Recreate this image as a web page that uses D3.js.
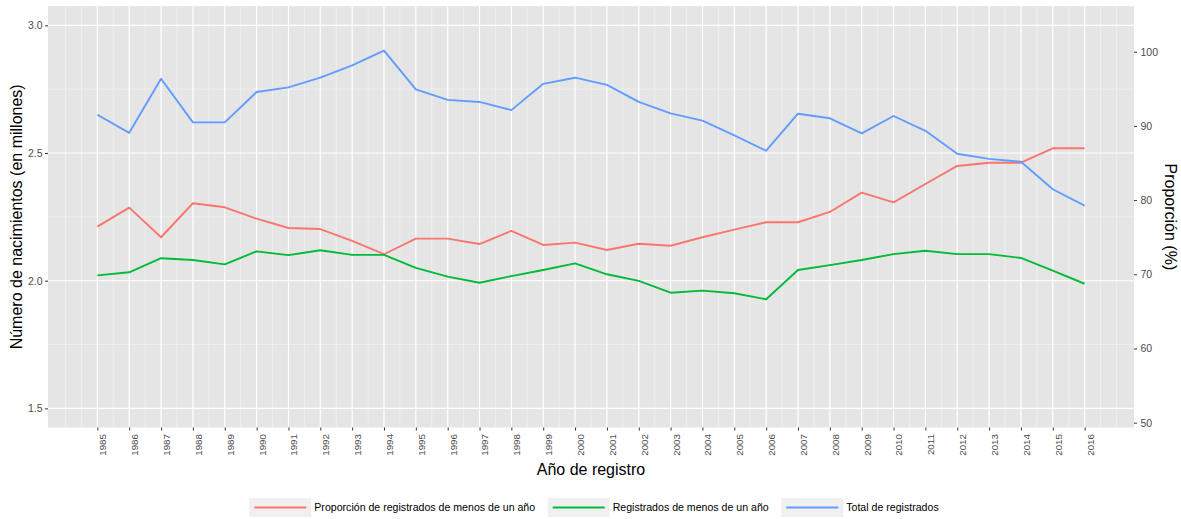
<!DOCTYPE html>
<html>
<head>
<meta charset="utf-8">
<script src="https://cdn.jsdelivr.net/npm/d3@7/dist/d3.min.js"></script>
<style>
  html, body { margin: 0; padding: 0; background: #ffffff; }
  svg { display: block; font-family: "Liberation Sans", Arial, sans-serif; }
</style>
</head>
<body>
<svg id="chart" width="1181" height="519"></svg>
<script>
// ---------- data ----------
const years = [1985,1986,1987,1988,1989,1990,1991,1992,1993,1994,
               1995,1996,1997,1998,1999,2000,2001,2002,2003,2004,
               2005,2006,2007,2008,2009,2010,2011,2012,2013,2014,
               2015,2016];
// Total de registrados (millones)
const totalRegistrados = [2.650,2.579,2.791,2.620,2.620,2.739,2.757,2.795,2.843,2.901,
                          2.749,2.708,2.700,2.668,2.771,2.795,2.767,2.700,2.655,2.627,
                          2.569,2.509,2.654,2.636,2.577,2.645,2.587,2.497,2.477,2.466,
                          2.358,2.294];
// Registrados de menos de un año (millones)
const registradosMenos1 = [2.021,2.033,2.088,2.081,2.064,2.115,2.100,2.119,2.101,2.101,
                           2.050,2.016,1.992,2.018,2.042,2.068,2.025,1.999,1.953,1.961,
                           1.951,1.927,2.042,2.061,2.081,2.104,2.117,2.104,2.104,2.089,
                           2.039,1.988];
// Proporción de registrados de menos de un año (%)
const proporcion = [76.42,78.98,74.99,79.57,79.03,77.50,76.24,76.10,74.50,72.70,
                    74.80,74.80,74.08,75.84,73.95,74.26,73.27,74.12,73.85,74.99,
                    76.01,77.01,77.01,78.40,81.00,79.70,82.17,84.60,85.04,85.04,
                    86.98,86.98];
const leftTicks = [1.5, 2.0, 2.5, 3.0];
const leftMinor = [1.75, 2.25, 2.75];
const rightTicks = [50, 60, 70, 80, 90, 100];
const seriesNames = ["Proporción de registrados de menos de un año",
                     "Registrados de menos de un año",
                     "Total de registrados"];
const seriesColors = ["#F8766D", "#00BA38", "#619CFF"];
const xTitle = "Año de registro";
const yLeftTitle = "Número de nacimientos (en millones)";
const yRightTitle = "Proporción (%)";

// ---------- layout ----------
const svg = d3.select("#chart");
const W = 1181, H = 519;
const panel = { left: 48, right: 1134, top: 6.2, bottom: 427.5 };

const x = d3.scaleLinear()
  .domain([1983.45, 2017.55])
  .range([panel.left, panel.right]);
const yL = d3.scaleLinear()
  .domain([1.425, 3.075])
  .range([panel.bottom, panel.top]);
const yR = d3.scaleLinear()
  .domain([49.35, 106.13])
  .range([panel.bottom, panel.top]);

// panel background
svg.append("rect")
  .attr("x", panel.left).attr("y", panel.top)
  .attr("width", panel.right - panel.left)
  .attr("height", panel.bottom - panel.top)
  .attr("fill", "#E5E5E5");

const grid = svg.append("g");
// minor vertical grid (half years from 1984 to 2017)
const xMinor = d3.range(1984, 2017.01, 0.5);
grid.selectAll(".vminor").data(xMinor).join("line")
  .attr("x1", d => x(d)).attr("x2", d => x(d))
  .attr("y1", panel.top).attr("y2", panel.bottom)
  .attr("stroke", "#F5F5F5").attr("stroke-width", 0.6);
// minor horizontal grid
grid.selectAll(".hminor").data(leftMinor).join("line")
  .attr("x1", panel.left).attr("x2", panel.right)
  .attr("y1", d => yL(d)).attr("y2", d => yL(d))
  .attr("stroke", "#F5F5F5").attr("stroke-width", 0.6);
// major grids
grid.selectAll(".vmajor").data(years).join("line")
  .attr("x1", d => x(d)).attr("x2", d => x(d))
  .attr("y1", panel.top).attr("y2", panel.bottom)
  .attr("stroke", "#ffffff").attr("stroke-width", 1.1);
grid.selectAll(".hmajor").data(leftTicks).join("line")
  .attr("x1", panel.left).attr("x2", panel.right)
  .attr("y1", d => yL(d)).attr("y2", d => yL(d))
  .attr("stroke", "#ffffff").attr("stroke-width", 1.1);

// ---------- lines ----------
const seriesData = [
  { vals: proporcion, scale: yR },
  { vals: registradosMenos1, scale: yL },
  { vals: totalRegistrados, scale: yL }
];
seriesData.forEach((s, i) => {
  const line = d3.line().x((d, j) => x(years[j])).y(d => s.scale(d));
  svg.append("path")
    .datum(s.vals)
    .attr("d", line)
    .attr("fill", "none")
    .attr("stroke", seriesColors[i])
    .attr("stroke-width", 1.9)
    .attr("stroke-linejoin", "round");
});

// ---------- axes ----------
const tickColor = "#333333", labColor = "#4D4D4D";

// bottom axis
const xAxis = d3.axisBottom(x).tickValues(years).tickFormat(d3.format("d"))
  .tickSize(3).tickPadding(2);
const gx = svg.append("g").attr("transform", `translate(0,${panel.bottom})`).call(xAxis);
gx.select(".domain").remove();
gx.selectAll(".tick line").attr("stroke", tickColor).attr("stroke-width", 1);
gx.selectAll(".tick text")
  .attr("fill", labColor)
  .style("font-size", "9.8px")
  .style("font-family", "'Liberation Sans', Arial, sans-serif")
  .attr("text-anchor", "end")
  .attr("dy", null)
  .attr("y", null)
  .attr("transform", "translate(8.4,6.5) rotate(-90)");

// left axis
const yAxisL = d3.axisLeft(yL).tickValues(leftTicks).tickFormat(d3.format(".1f"))
  .tickSize(3).tickPadding(2.5);
const gyl = svg.append("g").attr("transform", `translate(${panel.left},0)`).call(yAxisL);
gyl.select(".domain").remove();
gyl.selectAll(".tick line").attr("stroke", tickColor);
gyl.selectAll(".tick text").attr("fill", labColor)
  .style("font-size", "10.5px")
  .style("font-family", "'Liberation Sans', Arial, sans-serif");

// right axis
const yAxisR = d3.axisRight(yR).tickValues(rightTicks).tickFormat(d3.format("d"))
  .tickSize(3).tickPadding(3.5);
const gyr = svg.append("g").attr("transform", `translate(${panel.right},0)`).call(yAxisR);
gyr.select(".domain").remove();
gyr.selectAll(".tick line").attr("stroke", tickColor);
gyr.selectAll(".tick text").attr("fill", labColor)
  .style("font-size", "10.5px")
  .style("font-family", "'Liberation Sans', Arial, sans-serif");

// titles
const midX = (panel.left + panel.right) / 2;
const midY = (panel.top + panel.bottom) / 2;
svg.append("text")
  .attr("x", midX).attr("y", 475)
  .attr("text-anchor", "middle")
  .style("font-size", "16px").attr("fill", "#000")
  .text(xTitle);
svg.append("text")
  .attr("transform", `translate(21.5,${midY}) rotate(-90)`)
  .attr("text-anchor", "middle")
  .style("font-size", "16px").attr("fill", "#000")
  .text(yLeftTitle);
svg.append("text")
  .attr("transform", `translate(1165,${midY}) rotate(90)`)
  .attr("text-anchor", "middle")
  .style("font-size", "16px").attr("fill", "#000")
  .text(yRightTitle);

// ---------- legend ----------
const keyW = 62, keyH = 19, textGap = 3, itemGap = 12.5;
const legendY = 498;
const leg = svg.append("g");
const items = seriesNames.map((name, i) => {
  const g = leg.append("g");
  g.append("rect").attr("width", keyW).attr("height", keyH).attr("fill", "#F0F0F0");
  g.append("line").attr("x1", 5).attr("x2", keyW - 5)
    .attr("y1", keyH / 2).attr("y2", keyH / 2)
    .attr("stroke", seriesColors[i]).attr("stroke-width", 1.9);
  const t = g.append("text").attr("x", keyW + textGap).attr("y", keyH / 2)
    .attr("dy", "0.35em")
    .style("font-size", "10.6px").attr("fill", "#000")
    .text(name);
  return { g, w: keyW + textGap + t.node().getComputedTextLength() };
});
const totalW = d3.sum(items, d => d.w) + itemGap * (items.length - 1);
let cx = midX + 3 - totalW / 2;
items.forEach(it => {
  it.g.attr("transform", `translate(${cx},${legendY})`);
  cx += it.w + itemGap;
});
</script>
</body>
</html>
